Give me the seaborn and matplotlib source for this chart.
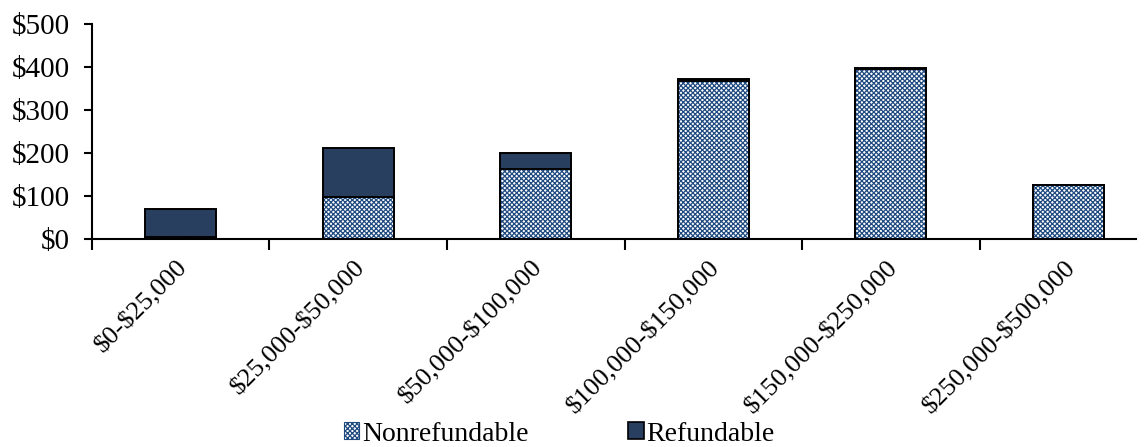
import numpy as np
import pandas as pd
import matplotlib
matplotlib.use("Agg")
import matplotlib.pyplot as plt
import matplotlib.transforms as mtrans
from matplotlib.patches import Patch
from matplotlib.ticker import FuncFormatter, FixedLocator
import seaborn as sns

# Chart values
brackets = ["$0-$25,000", "$25,000-$50,000", "$50,000-$100,000",
            "$100,000-$150,000", "$150,000-$250,000", "$250,000-$500,000"]
nonrefundable = [5, 98, 163, 368, 396, 125]
refundable = [64, 113, 36, 4, 2, 1]

df = pd.DataFrame({"bracket": brackets,
                   "nonref": nonrefundable,
                   "ref": refundable})
df["total"] = df["nonref"] + df["ref"]

sns.set_style("white")
plt.rcParams["font.family"] = ["Liberation Serif", "DejaVu Serif"]
plt.rcParams["text.parse_math"] = False  # dollar signs are plain text
plt.rcParams["text.color"] = "black"
plt.rcParams["hatch.linewidth"] = 0.9

navy = "#283f60"
hatch_col = "#1f4a80"

fig = plt.figure(figsize=(11.46, 4.47), dpi=100)
ax = fig.add_axes([0.080, 0.466, 0.911, 0.480])

# Refundable part: full stacked height, nonrefundable drawn over it
sns.barplot(data=df, x="bracket", y="total", color=navy, saturation=1,
            width=0.40, edgecolor="black", linewidth=1.4, ax=ax)
sns.barplot(data=df, x="bracket", y="nonref", color="white", saturation=1,
            width=0.40, edgecolor=hatch_col, linewidth=0, hatch="xxxxxxx", ax=ax)
sns.barplot(data=df, x="bracket", y="nonref", fill=False,
            width=0.40, edgecolor="black", linewidth=1.4, ax=ax)

# the axis is cut off a little before the end of the last category
ax.set_xlim(-0.5, 5.378)
ax.set_ylim(0, 500)
ax.set_yticks([0, 100, 200, 300, 400, 500])
ax.yaxis.set_major_formatter(FuncFormatter(lambda v, p: f"${v:,.0f}"))
ax.set_xlabel("")
ax.set_ylabel("")

sns.despine(ax=ax, top=True, right=True)
for side in ["left", "bottom"]:
    ax.spines[side].set_linewidth(1.5)
    ax.spines[side].set_color("black")

ax.tick_params(axis="y", which="major", direction="out", length=6, width=1.5,
               left=True, labelsize=21, pad=10, colors="black")
ax.tick_params(axis="x", which="major", length=0, labelsize=19, pad=2,
               labelcolor="black")
ax.xaxis.set_minor_locator(FixedLocator(np.arange(-0.5, 5.0, 1.0)))
ax.tick_params(axis="x", which="minor", direction="out", length=8, width=1.5,
               bottom=True, colors="black")
shift = mtrans.ScaledTranslation(-0.04, -0.15, fig.dpi_scale_trans)
for lab in ax.get_xticklabels():
    lab.set_rotation(45)
    lab.set_ha("right")
    lab.set_va("top")
    lab.set_rotation_mode("anchor")
    lab.set_transform(lab.get_transform() + shift)

handles = [Patch(facecolor="white", edgecolor=hatch_col, hatch="xxxxxxx",
                 linewidth=0.8, label="Nonrefundable"),
           Patch(facecolor=navy, edgecolor="black", linewidth=1.2,
                 label="Refundable")]
fig.legend(handles=handles, loc="lower center", bbox_to_anchor=(0.488, -0.055),
           ncol=2, frameon=False, fontsize=20, handlelength=0.55,
           handleheight=0.55, handletextpad=0.1, columnspacing=3.6)

fig.savefig("out.png", dpi=100)
